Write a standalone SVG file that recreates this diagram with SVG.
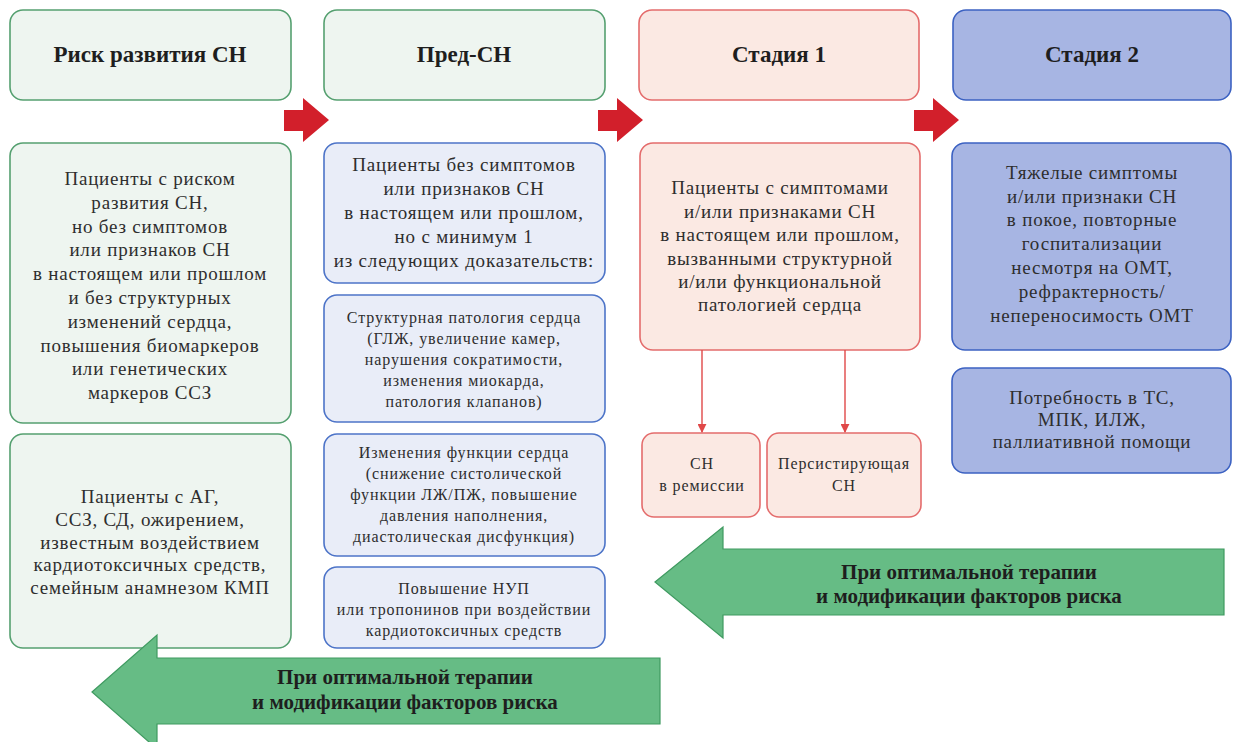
<svg xmlns="http://www.w3.org/2000/svg" width="1235" height="742" viewBox="0 0 1235 742">
<defs>
<style>
.t{font-family:"Liberation Serif","Times New Roman",serif;font-size:19px;letter-spacing:0.8px;fill:#2e2e2e;text-anchor:middle}
.s{font-size:16px;letter-spacing:0.9px}
.h{font-family:"Liberation Serif","Times New Roman",serif;font-size:23px;font-weight:bold;fill:#1e1e1e;text-anchor:middle}
.b{font-family:"Liberation Serif","Times New Roman",serif;font-size:21px;font-weight:bold;fill:#1e1e1e;text-anchor:middle}
.g{fill:#eef5f0;stroke:#55a070;stroke-width:1.6}
.l{fill:#e9edf8;stroke:#4d74c8;stroke-width:1.6}
.r{fill:#fbe9e3;stroke:#e46c6c;stroke-width:1.6}
.d{fill:#a7b5e3;stroke:#3c62c2;stroke-width:1.6}
.ra{fill:#d21f2b}
.ga{fill:#66bc85;stroke:#3f9a60;stroke-width:1.2}
.c{stroke:#e04848;stroke-width:1.4;fill:none}
</style>
<marker id="ah" viewBox="0 0 10 10" refX="9" refY="5" markerWidth="9" markerHeight="9" orient="auto" markerUnits="userSpaceOnUse">
<path d="M0,0 L10,5 L0,10 Z" fill="#e04848"/>
</marker>
</defs>
<rect width="1235" height="742" fill="#ffffff"/>

<g id="header-risk"><rect class="g" x="10" y="10" width="281" height="90" rx="13"/><text class="h" x="150" y="62">Риск развития СН</text></g>
<g id="header-pre"><rect class="g" x="324" y="10" width="281" height="90" rx="13"/><text class="h" x="464" y="62">Пред-СН</text></g>
<g id="header-st1"><rect class="r" x="639" y="10" width="280" height="90" rx="13"/><text class="h" x="779" y="62">Стадия 1</text></g>
<g id="header-st2"><rect class="d" x="953" y="10" width="278" height="90" rx="13"/><text class="h" x="1092" y="62">Стадия 2</text></g>

<g id="stage-arrows">
<path class="ra" d="M284,110 L303,110 L303,98 L329,120 L303,142 L303,131 L284,131 Z"/>
<path class="ra" d="M598,110 L617,110 L617,98 L643,120 L617,142 L617,131 L598,131 Z"/>
<path class="ra" d="M914,110 L933,110 L933,98 L959,120 L933,142 L933,131 L914,131 Z"/>
</g>

<g id="risk-desc"><rect class="g" x="10" y="143" width="281" height="280" rx="13"/>
<text class="t" x="150" y="185">Пациенты с риском</text>
<text class="t" x="150" y="209">развития СН,</text>
<text class="t" x="150" y="233">но без симптомов</text>
<text class="t" x="150" y="256">или признаков СН</text>
<text class="t" x="150" y="280">в настоящем или прошлом</text>
<text class="t" x="150" y="304">и без структурных</text>
<text class="t" x="150" y="328">изменений сердца,</text>
<text class="t" x="150" y="352">повышения биомаркеров</text>
<text class="t" x="150" y="375">или генетических</text>
<text class="t" x="150" y="399">маркеров ССЗ</text>
</g>

<g id="risk-examples"><rect class="g" x="10" y="434" width="281" height="214" rx="13"/>
<text class="t" x="150" y="503">Пациенты с АГ,</text>
<text class="t" x="150" y="526">ССЗ, СД, ожирением,</text>
<text class="t" x="150" y="549">известным воздействием</text>
<text class="t" x="150" y="571">кардиотоксичных средств,</text>
<text class="t" x="150" y="594">семейным анамнезом КМП</text>
</g>

<g id="pre-desc"><rect class="l" x="324" y="143" width="281" height="140" rx="13"/>
<text class="t" x="464" y="171">Пациенты без симптомов</text>
<text class="t" x="464" y="195">или признаков СН</text>
<text class="t" x="464" y="219">в настоящем или прошлом,</text>
<text class="t" x="464" y="243">но с минимум 1</text>
<text class="t" x="464" y="267">из следующих доказательств:</text>
</g>

<g id="pre-struct"><rect class="l" x="324" y="295" width="281" height="127" rx="13"/>
<text class="t s" x="464" y="323">Структурная патология сердца</text>
<text class="t s" x="464" y="344">(ГЛЖ, увеличение камер,</text>
<text class="t s" x="464" y="365">нарушения сократимости,</text>
<text class="t s" x="464" y="386">изменения миокарда,</text>
<text class="t s" x="464" y="407">патология клапанов)</text>
</g>

<g id="pre-func"><rect class="l" x="324" y="434" width="281" height="122" rx="13"/>
<text class="t s" x="464" y="458">Изменения функции сердца</text>
<text class="t s" x="464" y="479">(снижение систолической</text>
<text class="t s" x="464" y="500">функции ЛЖ/ПЖ, повышение</text>
<text class="t s" x="464" y="521">давления наполнения,</text>
<text class="t s" x="464" y="542">диастолическая дисфункция)</text>
</g>

<g id="pre-nup"><rect class="l" x="324" y="567" width="281" height="81" rx="13"/>
<text class="t s" x="464" y="594">Повышение НУП</text>
<text class="t s" x="464" y="615">или тропонинов при воздействии</text>
<text class="t s" x="464" y="636">кардиотоксичных средств</text>
</g>

<g id="st1-desc"><rect class="r" x="640" y="143" width="280" height="207" rx="13"/>
<text class="t" x="780" y="194">Пациенты с симптомами</text>
<text class="t" x="780" y="218">и/или признаками СН</text>
<text class="t" x="780" y="241">в настоящем или прошлом,</text>
<text class="t" x="780" y="265">вызванными структурной</text>
<text class="t" x="780" y="288">и/или функциональной</text>
<text class="t" x="780" y="311">патологией сердца</text>
</g>

<g id="st1-remission"><rect class="r" x="642" y="433" width="118" height="84" rx="12"/>
<text class="t s" x="702" y="469">СН</text>
<text class="t s" x="702" y="491">в ремиссии</text>
</g>

<g id="st1-persist"><rect class="r" x="767" y="433" width="154" height="84" rx="12"/>
<text class="t s" x="844" y="469">Персистирующая</text>
<text class="t s" x="844" y="491">СН</text>
</g>

<g id="st2-desc"><rect class="d" x="952" y="143" width="279" height="207" rx="13"/>
<text class="t" x="1092" y="179">Тяжелые симптомы</text>
<text class="t" x="1092" y="203">и/или признаки СН</text>
<text class="t" x="1092" y="226">в покое, повторные</text>
<text class="t" x="1092" y="250">госпитализации</text>
<text class="t" x="1092" y="274">несмотря на ОМТ,</text>
<text class="t" x="1092" y="298">рефрактерность/</text>
<text class="t" x="1092" y="322">непереносимость ОМТ</text>
</g>

<g id="st2-needs"><rect class="d" x="952" y="368" width="279" height="105" rx="13"/>
<text class="t" x="1092" y="404">Потребность в ТС,</text>
<text class="t" x="1092" y="426">МПК, ИЛЖ,</text>
<text class="t" x="1092" y="448">паллиативной помощи</text>
</g>

<g id="connectors">
<line class="c" x1="702" y1="350" x2="702" y2="432" marker-end="url(#ah)"/>
<line class="c" x1="845" y1="350" x2="845" y2="432" marker-end="url(#ah)"/>
</g>

<g id="therapy-arrow-1">
<path class="ga" d="M655,582 L723,527 L723,549 L1224,549 L1224,615 L723,615 L723,638 Z"/>
<text class="b" x="969" y="579">При оптимальной терапии</text>
<text class="b" x="969" y="603">и модификации факторов риска</text>
</g>

<g id="therapy-arrow-2">
<path class="ga" d="M92,692 L157,635 L157,658 L660,658 L660,724 L157,724 L157,749 Z"/>
<text class="b" x="405" y="684">При оптимальной терапии</text>
<text class="b" x="405" y="709">и модификации факторов риска</text>
</g>
</svg>
